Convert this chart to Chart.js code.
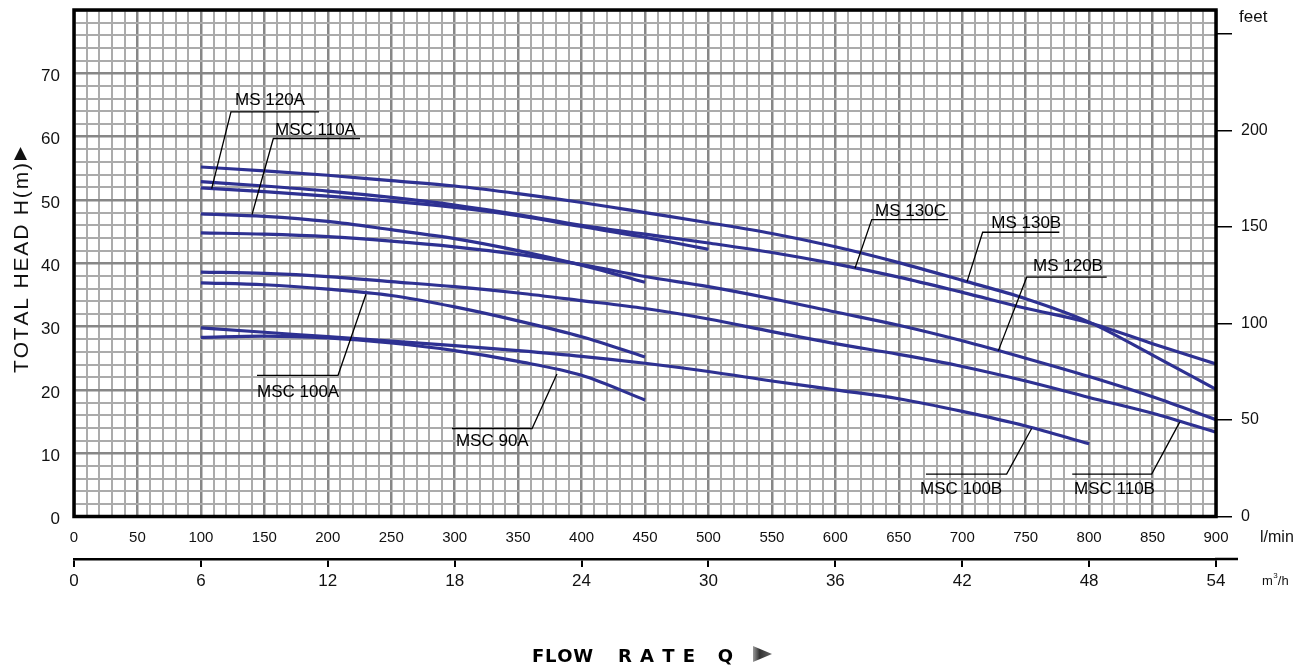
<!DOCTYPE html>
<html>
<head>
<meta charset="utf-8">
<script src="https://cdn.jsdelivr.net/npm/chart.js@4.4.0/dist/chart.umd.min.js"></script>
<style>
html,body{margin:0;padding:0;background:#ffffff;}
canvas{display:block;}
</style>
</head>
<body>
<canvas id="c" width="1316" height="665"></canvas>
<script>
// ---------------- DATA ----------------
const flowLmin = [100,150,200,250,300,350,400,450,500,550,600,650,700,750,800,850,900];

const seriesNames = ['MS 130B','MS 130C','MS 120A','MSC 110A','MS 120B','MSC 110B','MSC 100A','MSC 100B','MSC 90A'];

const ms130B  = [55.2,54.6,53.9,53.05,52.2,51.0,49.6,48.0,46.4,44.7,42.6,40.1,37.3,34.4,30.7,25.5,20.1];
const ms130C  = [52.9,52.2,51.4,50.4,49.2,47.7,46.0,44.6,43.2,41.7,39.9,37.8,35.4,32.9,30.6,27.3,24.1];
const ms120A  = [51.9,51.3,50.6,49.8,48.8,47.5,45.8,44.1,42.2];
const msc110A = [47.8,47.4,46.6,45.3,43.9,42.0,39.7,37.0];
const ms120B  = [44.8,44.6,44.2,43.5,42.6,41.4,39.8,37.9,36.3,34.4,32.3,30.2,27.75,25.0,22.1,18.9,15.3];
const msc110B = [38.6,38.4,37.9,37.1,36.3,35.3,34.1,32.85,31.2,29.2,27.3,25.6,23.7,21.4,18.8,16.3,13.3];
const msc100A = [36.9,36.6,35.9,34.9,33.1,30.9,28.4,25.2];
const msc100B = [29.8,29.1,28.4,27.7,27.0,26.2,25.3,24.2,22.9,21.4,20.0,18.6,16.6,14.3,11.5];
const msc90A  = [28.3,28.5,28.2,27.4,26.2,24.5,22.3,18.4];

const seriesValues = [ms130B, ms130C, ms120A, msc110A, ms120B, msc110B, msc100A, msc100B, msc90A];

// tick labels
const headTicksM   = [0,10,20,30,40,50,60,70];
const headTicksFt  = [0,50,100,150,200];
const flowTicksLmin = [0,50,100,150,200,250,300,350,400,450,500,550,600,650,700,750,800,850,900];
const flowTicksM3h = [0,6,12,18,24,30,36,42,48,54];

// ---------------- STYLE / LAYOUT ----------------
const CURVE = '#2e3192';
const MAJOR = '#878787';
const MINOR = '#ababab';
const FONT = '"Liberation Sans", Arial, Helvetica, sans-serif';
const M_TO_FT = 3.28084;

// callouts (positions in data units: l/min, m)
const callouts = [
  {name:'MS 120A',  text:[126.9,65.0], path:[[193.1,63.9],[123.7,63.9],[108.5,51.8]]},
  {name:'MSC 110A', text:[158.4,60.3], path:[[225.4,59.7],[157.1,59.7],[140.3,47.7]]},
  {name:'MSC 100A', text:[144.2,18.9], path:[[144.2,22.3],[208.1,22.3],[230.1,35.1]]},
  {name:'MSC 90A',  text:[301.0,11.1], path:[[297.9,13.9],[361.0,13.9],[380.6,22.5]]},
  {name:'MS 130C',  text:[631.3,47.4], path:[[689.0,46.9],[628.7,46.9],[615.5,39.2]]},
  {name:'MS 130B',  text:[722.9,45.5], path:[[776.5,44.9],[716.1,44.9],[703.8,37.1]]},
  {name:'MS 120B',  text:[755.8,38.7], path:[[813.9,37.8],[750.8,37.8],[728.5,26.2]]},
  {name:'MSC 100B', text:[666.7,3.5],  path:[[671.4,6.7],[735.0,6.7],[754.7,13.9]]},
  {name:'MSC 110B', text:[788.1,3.5],  path:[[786.7,6.7],[849.3,6.7],[871.4,14.9]]}
];

const datasets = seriesNames.map((name, i) => ({
  label: name,
  data: seriesValues[i].map((v, j) => ({x: flowLmin[j], y: v})),
  borderColor: CURVE,
  borderWidth: 3.2,
  pointRadius: 0,
  fill: false,
  cubicInterpolationMode: 'monotone',
  xAxisID: 'x',
  yAxisID: 'y'
}));

function spaced(ctx, str, x, y, target) {
  const chars = Array.from(str);
  let total = 0;
  chars.forEach(ch => total += ctx.measureText(ch).width);
  const sp = chars.length > 1 ? (target - total) / (chars.length - 1) : 0;
  let cx = x;
  chars.forEach(ch => { ctx.fillText(ch, cx, y); cx += ctx.measureText(ch).width + sp; });
}

const decor = {
  id: 'decor',
  afterDatasetsDraw(chart) {
    const ctx = chart.ctx;
    const a = chart.chartArea;
    const sx = chart.scales.x, sy = chart.scales.y, sx2 = chart.scales.x2;
    ctx.save();
    // frame
    ctx.strokeStyle = '#000';
    ctx.lineWidth = 3.5;
    ctx.strokeRect(a.left, a.top, a.right - a.left, a.bottom - a.top);

    // callouts
    ctx.lineWidth = 1.3;
    ctx.strokeStyle = '#000';
    ctx.fillStyle = '#000';
    ctx.font = '17px ' + FONT;
    ctx.textBaseline = 'alphabetic';
    ctx.textAlign = 'left';
    callouts.forEach(c => {
      ctx.beginPath();
      c.path.forEach((p, k) => {
        const px = sx.getPixelForValue(p[0]), py = sy.getPixelForValue(p[1]);
        if (k === 0) ctx.moveTo(px, py); else ctx.lineTo(px, py);
      });
      ctx.stroke();
      ctx.fillText(c.name, sx.getPixelForValue(c.text[0]), sy.getPixelForValue(c.text[1]));
    });

    // m3/h axis line extension
    ctx.lineWidth = 2.5;
    ctx.beginPath();
    ctx.moveTo(a.right - 1, sx2.top);
    ctx.lineTo(a.right + 22, sx2.top);
    ctx.stroke();

    // unit labels
    ctx.fillStyle = '#111';
    ctx.font = '17px ' + FONT;
    ctx.textBaseline = 'alphabetic';
    ctx.fillText('feet', 1239, 22);
    ctx.font = '16px ' + FONT;
    ctx.textBaseline = 'middle';
    ctx.fillText('l/min', 1260, 538);
    ctx.textBaseline = 'alphabetic';
    ctx.font = '13px ' + FONT;
    ctx.fillText('m', 1262, 585);
    const mw = ctx.measureText('m').width;
    ctx.font = '8px ' + FONT;
    ctx.fillText('3', 1262 + mw + 0.5, 578);
    ctx.font = '13px ' + FONT;
    ctx.fillText('/h', 1262 + mw + 5, 585);

    // y title
    ctx.save();
    ctx.translate(21, 373);
    ctx.rotate(-Math.PI / 2);
    ctx.font = '21px ' + FONT;
    ctx.fillStyle = '#111';
    ctx.textBaseline = 'middle';
    spaced(ctx, 'TOTAL HEAD H(m)', 0, 1, 210);
    ctx.restore();
    ctx.beginPath();
    ctx.moveTo(20.5, 147);
    ctx.lineTo(27, 160);
    ctx.lineTo(14, 160);
    ctx.closePath();
    ctx.fillStyle = '#111';
    ctx.fill();

    // x title
    ctx.font = 'bold 18px "DejaVu Sans", ' + FONT;
    ctx.fillStyle = '#000';
    ctx.textBaseline = 'alphabetic';
    spaced(ctx, 'FLOW', 532, 662, 61);
    spaced(ctx, 'RATE Q', 618, 662, 115);
    const g = ctx.createLinearGradient(753, 0, 772, 0);
    g.addColorStop(0, '#9a9a9a');
    g.addColorStop(0.35, '#333');
    g.addColorStop(1, '#666');
    ctx.fillStyle = g;
    ctx.beginPath();
    ctx.moveTo(753, 646);
    ctx.lineTo(772, 654);
    ctx.lineTo(753, 662);
    ctx.closePath();
    ctx.fill();
    ctx.restore();
  }
};

const isMul = (v, m) => Math.abs(v / m - Math.round(v / m)) < 1e-6;

new Chart(document.getElementById('c'), {
  type: 'line',
  data: { datasets },
  plugins: [decor],
  options: {
    responsive: false,
    animation: false,
    events: [],
    layout: { padding: { top: 10, left: 0, right: 0, bottom: 56 } },
    plugins: { legend: { display: false }, tooltip: { enabled: false } },
    scales: {
      x: {
        type: 'linear', position: 'bottom', min: 0, max: 900,
        afterFit: s => { s.height = 42.5; s.paddingLeft = 0; s.paddingRight = 0; },
        border: { display: false },
        grid: {
          drawTicks: false,
          color: c => isMul(c.tick.value, 50) ? MAJOR : MINOR,
          lineWidth: c => isMul(c.tick.value, 50) ? 2.5 : 2
        },
        ticks: {
          stepSize: 10, autoSkip: false, maxRotation: 0, padding: 12,
          color: '#111', font: { family: FONT, size: 15 },
          callback: v => flowTicksLmin.includes(v) ? String(v) : ''
        }
      },
      x2: {
        type: 'linear', position: 'bottom', min: 0, max: 54,
        afterFit: s => { s.height = 50; s.paddingLeft = 0; s.paddingRight = 0; },
        border: { display: true, color: '#000', width: 2.5 },
        grid: { drawOnChartArea: false, drawTicks: true, tickLength: 8, color: '#000', lineWidth: 2 },
        ticks: {
          stepSize: 6, autoSkip: false, maxRotation: 0, padding: 4,
          color: '#111', font: { family: FONT, size: 17 },
          callback: v => flowTicksM3h.includes(v) ? String(v) : ''
        }
      },
      y: {
        type: 'linear', position: 'left', min: 0, max: 80,
        afterFit: s => { s.width = 74; s.paddingTop = 0; s.paddingBottom = 0; },
        border: { display: false },
        grid: {
          drawTicks: false,
          color: c => isMul(c.tick.value, 10) ? MAJOR : MINOR,
          lineWidth: c => isMul(c.tick.value, 10) ? 2.5 : 2
        },
        ticks: {
          stepSize: 2, autoSkip: false, padding: 14, labelOffset: 3,
          color: '#111', font: { family: FONT, size: 17 },
          callback: v => headTicksM.includes(v) ? String(v) : ''
        }
      },
      y2: {
        type: 'linear', position: 'right', min: 0, max: 80 * M_TO_FT,
        afterFit: s => { s.width = 100; s.paddingTop = 0; s.paddingBottom = 0; },
        border: { display: false },
        grid: { drawOnChartArea: false, drawTicks: true, tickLength: 16, color: '#000', lineWidth: 1.5 },
        ticks: {
          stepSize: 50, includeBounds: false, autoSkip: false, padding: 9,
          color: '#111', font: { family: FONT, size: 16 },
          callback: v => headTicksFt.includes(v) ? String(v) : ''
        }
      }
    }
  }
});
</script>
</body>
</html>
